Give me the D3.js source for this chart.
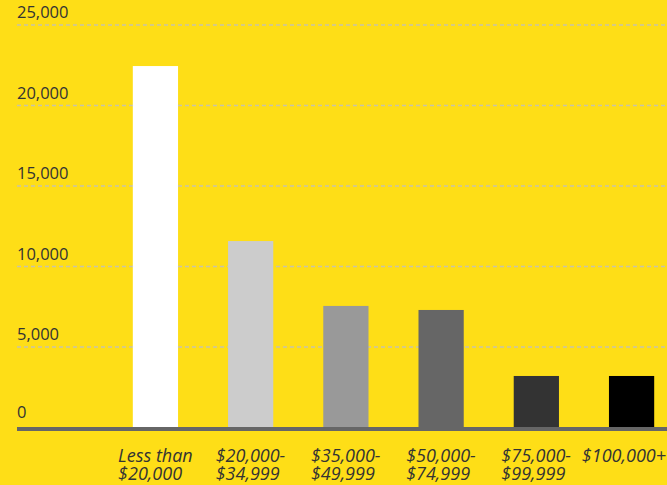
<!DOCTYPE html>
<html>
<head>
<meta charset="utf-8">
<script src="https://cdn.jsdelivr.net/npm/d3@7"></script>
<style>
  html, body { margin: 0; padding: 0; background: #FEDE17; }
  svg { display: block; }
  text { font-family: "Open Sans", sans-serif; fill: #333; }
</style>
</head>
<body>
<div id="chart"></div>
<script>
// Data
const categories = [
    ['Less than', '$20,000'],
    ['$20,000-', '$34,999'],
    ['$35,000-', '$49,999'],
    ['$50,000-', '$74,999'],
    ['$75,000-', '$99,999'],
    ['$100,000+']
];
const values = [22450, 11580, 7550, 7300, 3200, 3200];
const barColors = ['#ffffff', '#cccccc', '#999999', '#666666', '#333333', '#000000'];
const yTicks = [0, 5000, 10000, 15000, 20000, 25000];

const width = 667, height = 485;
const margin = { left: 17, right: 0, top: 25, bottom: 57.5 };

const svg = d3.select('#chart')
    .append('svg')
    .attr('width', width)
    .attr('height', height);

const y = d3.scaleLinear()
    .domain([0, 25000])
    .range([height - margin.bottom, margin.top]);

const x = d3.scaleBand()
    .domain(d3.range(categories.length))
    .range([109, 678])
    .paddingInner(0.525)
    .paddingOuter(0.25);

// Grid lines (dashed)
svg.append('g')
    .selectAll('line')
    .data(yTicks.filter(t => t > 0))
    .join('line')
    .attr('x1', margin.left)
    .attr('x2', width)
    .attr('y1', d => y(d))
    .attr('y2', d => y(d))
    .attr('stroke', '#c8c4a8')
    .attr('stroke-width', 1.3)
    .attr('stroke-dasharray', '4,3');

// Tick labels
svg.append('g')
    .selectAll('text')
    .data(yTicks)
    .join('text')
    .attr('x', margin.left)
    .attr('y', d => y(d) - (d === 0 ? 10 : 7))
    .attr('font-size', 16.5)
    .text(d => d3.format(',')(d));

// Bars
svg.append('g')
    .selectAll('rect')
    .data(values)
    .join('rect')
    .attr('x', (d, i) => x(i))
    .attr('width', x.bandwidth())
    .attr('y', d => y(d))
    .attr('height', d => y(0) - y(d))
    .attr('fill', (d, i) => barColors[i]);

// Baseline
svg.append('line')
    .attr('x1', margin.left)
    .attr('x2', width)
    .attr('y1', y(0) + 1.5)
    .attr('y2', y(0) + 1.5)
    .attr('stroke', '#666')
    .attr('stroke-width', 4);

// Category labels (left-aligned lines, block centred under bar)
const labels = svg.append('g')
    .selectAll('text')
    .data(categories)
    .join('text')
    .attr('font-size', 18)
    .attr('font-style', 'italic')
    .attr('y', y(0) + 34);

labels.selectAll('tspan')
    .data(d => d)
    .join('tspan')
    .attr('x', 0)
    .attr('dy', (d, i) => i === 0 ? 0 : 18)
    .text(d => d);

labels.each(function(d, i) {
    const w = this.getBBox().width;
    let left = x(i) + x.bandwidth() / 2 - w / 2;
    left = Math.min(left, width - 1 - w);
    d3.select(this).selectAll('tspan').attr('x', left);
});
</script>
</body>
</html>
